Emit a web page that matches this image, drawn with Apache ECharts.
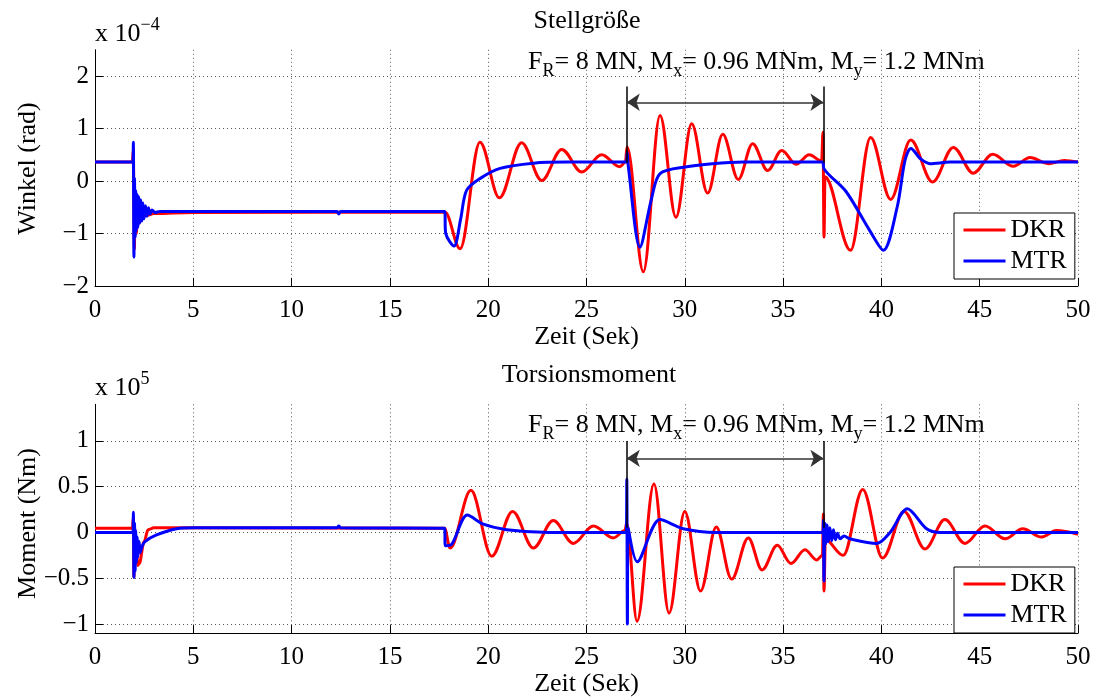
<!DOCTYPE html>
<html>
<head>
<meta charset="utf-8">
<script src="https://cdn.jsdelivr.net/npm/echarts@6/dist/echarts.min.js"></script>
<style>
html, body { margin: 0; padding: 0; background: #fff; }
#chart { width: 1099px; height: 698px; }
</style>
</head>
<body>
<div id="chart"></div>
<script>
// ---- time axis (s) ----
const timeMin = 0, timeMax = 50, timeStep = 5;

// ---- Stellgröße: pitch angle, in units of 1e-4 rad ----
const angleTicks = [-2, -1, 0, 1, 2];
const angleRange = [-2, 2.5];

const angleDkrT = [0, 1.9, 1.95, 2.0, 2.05, 2.1, 2.18, 2.27, 2.4, 2.6, 3.0, 5.0, 17.8,
  18.57, 19.58, 20.57, 21.7, 22.72, 23.74, 24.76, 25.77, 26.7, 26.98, 27.06,
  27.89, 28.74, 29.55, 30.35, 31.16, 31.93, 32.72, 33.45, 34.21, 34.93, 35.66, 36.33, 36.96,
  37.03, 37.08, 37.13, 38.43, 39.45, 40.47, 41.49, 42.6, 43.66, 44.67, 45.66, 46.71, 47.56, 48.49, 49.3, 50];
const angleDkrV = [0.36, 0.36, 0.6, -1.3, -0.2, -1.0, -0.4, -0.8, -0.52, -0.66, -0.62, -0.6, -0.59,
  -1.29, 0.74, -0.32, 0.73, 0.01, 0.6, 0.17, 0.5, 0.27, 0.36, 0.65,
  -1.73, 1.25, -0.69, 1.09, -0.23, 0.89, 0.03, 0.71, 0.2, 0.58, 0.32, 0.5, 0.38,
  0.93, -1.07, 0.08, -1.32, 0.83, -0.35, 0.78, -0.02, 0.64, 0.15, 0.51, 0.28, 0.45, 0.33, 0.39, 0.36];

const angleMtrT = [0, 1.93, 1.95, 1.98, 2.01, 2.04, 2.07, 2.1, 2.14, 2.18, 2.22, 2.27, 2.32, 2.38,
  2.44, 2.5, 2.57, 2.64, 2.72, 2.8, 2.9, 3.05, 3.3, 12.3, 12.4, 12.5, 17.78, 17.84, 18.26, 18.6,
  18.9, 19.6, 20.6, 22.3, 24, 27.03, 27.07, 27.12, 27.72, 28.3, 28.74, 30.1, 31.4, 33, 37.03,
  37.07, 38.2, 39.4, 40.1, 40.8, 41.2, 41.5, 42.0, 42.47, 43.5, 50];
const angleMtrV = [0.36, 0.36, 0.74, -1.45, 0.05, -1.07, -0.18, -0.95, -0.25, -0.88, -0.3, -0.8, -0.36, -0.76,
  -0.42, -0.72, -0.47, -0.67, -0.51, -0.63, -0.55, -0.6, -0.58, -0.58, -0.63, -0.58, -0.58, -1.0, -1.24, -0.72,
  -0.18, 0.05, 0.24, 0.34, 0.36, 0.36, 0.55, 0.3, -1.26, -0.35, 0.14, 0.27, 0.33, 0.36, 0.36,
  0.24, -0.2, -0.94, -1.32, -0.5, 0.39, 0.62, 0.42, 0.33, 0.36, 0.36];

// ---- Torsionsmoment: torque, in units of 1e5 Nm ----
const momentTicks = [-1, -0.5, 0, 0.5, 1];
const momentRange = [-1.1, 1.4];

const momentDkrT = [0, 1.9, 1.95, 1.98, 2.02, 2.06, 2.1, 2.17, 2.25, 2.5, 2.7, 3.0, 17.78,
  18.06, 19.12, 20.18, 21.24, 22.3, 23.31, 24.33, 25.35, 26.36, 26.96, 27.04,
  27.57, 28.43, 29.2, 30.0, 30.8, 31.6, 32.38, 33.23, 33.93, 34.7, 35.4, 36.11, 36.71, 37.0,
  37.05, 37.08, 37.15, 38.06, 39.05, 40.06, 41.15, 42.22, 43.23, 44.25, 45.27, 46.29, 47.19, 48.15, 48.9, 50];
const momentDkrV = [0.045, 0.045, 0.16, -0.49, 0.05, -0.3, -0.05, -0.36, -0.34, -0.1, 0.03, 0.05, 0.045,
  -0.17, 0.46, -0.26, 0.23, -0.17, 0.13, -0.12, 0.07, -0.06, 0.02, 0.1,
  -0.97, 0.53, -0.88, 0.23, -0.64, 0.06, -0.51, -0.06, -0.41, -0.14, -0.34, -0.19, -0.3, -0.25,
  0.2, -0.64, -0.08, -0.25, 0.47, -0.28, 0.23, -0.18, 0.14, -0.12, 0.07, -0.07, 0.04, -0.05, 0.02, -0.02];

const momentMtrT = [0, 1.93, 1.95, 1.98, 2.01, 2.04, 2.07, 2.1, 2.14, 2.18, 2.24, 2.3, 2.4, 2.54,
  3.1, 4.15, 5, 12.3, 12.4, 12.5, 17.78, 17.82, 18.14, 18.94, 19.75, 20.94, 23.1, 27.02,
  27.05, 27.08, 27.12, 27.58, 28.74, 29.92, 31.6, 37.02, 37.05, 37.08, 37.12, 37.17, 37.23,
  37.3, 37.38, 37.47, 37.56, 37.66, 37.77, 37.9, 38.1, 38.4, 39.76, 40.44, 41.32, 42.3, 43, 50];
const momentMtrV = [0.0, 0.0, 0.22, -0.49, 0.1, -0.42, 0.02, -0.33, -0.05, -0.27, -0.1, -0.22, -0.15, -0.1,
  -0.03, 0.04, 0.05, 0.05, 0.07, 0.05, 0.045, -0.145, -0.13, 0.19, 0.09, 0.03, 0.0, 0.0,
  0.58, -1.0, 0.05, -0.32, 0.14, 0.04, 0.0, 0.0, 0.13, -0.53, 0.1, -0.12, 0.08,
  -0.1, 0.05, -0.09, 0.03, -0.08, -0.01, -0.07, -0.04, -0.07, -0.12, 0.0, 0.26, 0.04, 0.0, 0.0];

// ---- load-step annotation (time window and marker heights) ----
const loadStep = [27.05, 37.05];
const angleMarker = { lineTop: 1.8, lineBottom: 0.35, arrow: 1.5 };
const momentMarker = { lineTop: 1.0, lineBottom: 0.05, arrow: 0.81 };

const serif = 'Liberation Serif';
const RED = '#ff0000', BLUE = '#0000ff';
const pairs = (t, v) => t.map((x, i) => [x, v[i]]);
const fmt = v => String(v).replace('-', '\u2212');

function xAxisFor(g) {
  return {
    type: 'value', gridIndex: g, min: timeMin, max: timeMax, interval: timeStep,
    axisLine: { show: true, onZero: false, lineStyle: { color: '#000', width: 1 } },
    axisTick: { show: true, inside: true, length: 8, lineStyle: { color: '#000' } },
    axisLabel: { fontFamily: serif, fontSize: 25, color: '#000', margin: 12 },
    splitLine: { show: true, lineStyle: { color: '#555', width: 1, type: [1, 3] } },
    name: 'Zeit (Sek)', nameLocation: 'middle', nameGap: 29,
    nameTextStyle: { fontFamily: serif, fontSize: 26, color: '#000' }
  };
}
function yAxisFor(g, range, ticks) {
  return {
    type: 'value', gridIndex: g, min: range[0], max: range[1],
    axisLine: { show: true, onZero: false, lineStyle: { color: '#000', width: 1 } },
    axisTick: { show: true, inside: true, length: 8, customValues: ticks, lineStyle: { color: '#000' } },
    axisLabel: { customValues: ticks, formatter: fmt, fontFamily: serif, fontSize: 25, color: '#000', margin: 6 },
    splitLine: { show: true, lineStyle: { color: '#555', width: 1, type: [1, 3] } }
  };
}
function markers(m) {
  const solid = { color: '#000', width: 1.5, type: 'solid' };
  return {
    silent: true, animation: false, label: { show: false },
    symbol: ['none', 'none'],
    data: [
      [{ coord: [loadStep[0], m.lineTop], lineStyle: solid }, { coord: [loadStep[0], m.lineBottom] }],
      [{ coord: [loadStep[1], m.lineTop], lineStyle: solid }, { coord: [loadStep[1], m.lineBottom] }],
      [{ coord: [loadStep[0], m.arrow], symbol: 'arrow', symbolSize: 13,
         lineStyle: { color: '#333', width: 1.5, type: 'solid' } },
       { coord: [loadStep[1], m.arrow], symbol: 'arrow', symbolSize: 13 }]
    ]
  };
}
function lineSeries(name, color, g, data, monotone, mark) {
  const s = {
    name, type: 'line', xAxisIndex: g, yAxisIndex: g, data,
    showSymbol: false, symbol: 'none',
    smooth: monotone ? 0.35 : 0.3,
    lineStyle: { color, width: 3 }, itemStyle: { color },
    emphasis: { disabled: true }
  };
  if (monotone) s.smoothMonotone = 'x';
  if (mark) s.markLine = mark;
  return s;
}
function legendAt(top) {
  return {
    data: ['DKR', 'MTR'], orient: 'vertical', left: 954, top,
    backgroundColor: '#fff', borderColor: '#000', borderWidth: 1, borderRadius: 0,
    padding: [3, 8, 4, 8], itemGap: 3, itemWidth: 42, itemHeight: 28,
    itemStyle: { opacity: 0, borderWidth: 0 },
    lineStyle: { width: 3 },
    textStyle: { fontFamily: serif, fontSize: 26, color: '#000', lineHeight: 28 },
    selectedMode: false
  };
}
const mainRich = { fontFamily: serif, fontSize: 26, lineHeight: 36 };
const subRich = { fontFamily: serif, fontSize: 18, lineHeight: 18, verticalAlign: 'bottom' };
const supRich = { fontFamily: serif, fontSize: 18, lineHeight: 22, verticalAlign: 'top' };
const caseText = '{m|F}{s|R}{m|= 8 MN, M}{s|x}{m|= 0.96 MNm, M}{s|y}{m|= 1.2 MNm}';

function text(x, y, str, extra) {
  return { type: 'text', x, y, silent: true,
    style: Object.assign({ text: str, fontFamily: serif, fontSize: 26, fill: '#000' }, extra) };
}

const option = {
  animation: false,
  backgroundColor: '#fff',
  grid: [
    { left: 95, top: 49.75, width: 983, height: 236.25, containLabel: false },
    { left: 95, top: 404.3, width: 983, height: 237, containLabel: false }
  ],
  xAxis: [xAxisFor(0), xAxisFor(1)],
  yAxis: [yAxisFor(0, angleRange, angleTicks), yAxisFor(1, momentRange, momentTicks)],
  legend: [legendAt(213), legendAt(567)],
  series: [
    lineSeries('DKR', RED, 0, pairs(angleDkrT, angleDkrV), true, markers(angleMarker)),
    lineSeries('MTR', BLUE, 0, pairs(angleMtrT, angleMtrV), false),
    lineSeries('DKR', RED, 1, pairs(momentDkrT, momentDkrV), true, markers(momentMarker)),
    lineSeries('MTR', BLUE, 1, pairs(momentMtrT, momentMtrV), false)
  ],
  graphic: [
    text(587, 20.8, 'Stellgröße', { align: 'center', verticalAlign: 'middle' }),
    text(589, 375.5, 'Torsionsmoment', { align: 'center', verticalAlign: 'middle' }),
    Object.assign(text(28, 168.5, 'Winkel (rad)', { align: 'center', verticalAlign: 'middle' }), { rotation: Math.PI / 2 }),
    Object.assign(text(28, 523.5, 'Moment (Nm)', { align: 'center', verticalAlign: 'middle' }), { rotation: Math.PI / 2 }),
    text(95, 15.9, '{m|x 10}{p|\u22124}', { verticalAlign: 'top', rich: { m: mainRich, p: supRich } }),
    text(95, 370.2, '{m|x 10}{p|5}', { verticalAlign: 'top', rich: { m: mainRich, p: supRich } }),
    text(528, 44, caseText, { verticalAlign: 'top', rich: { m: mainRich, s: subRich } }),
    text(528, 407.5, caseText, { verticalAlign: 'top', rich: { m: mainRich, s: subRich } })
  ]
};

const chart = echarts.init(document.getElementById('chart'), null, { renderer: 'canvas' });
chart.setOption(option);
</script>
</body>
</html>
